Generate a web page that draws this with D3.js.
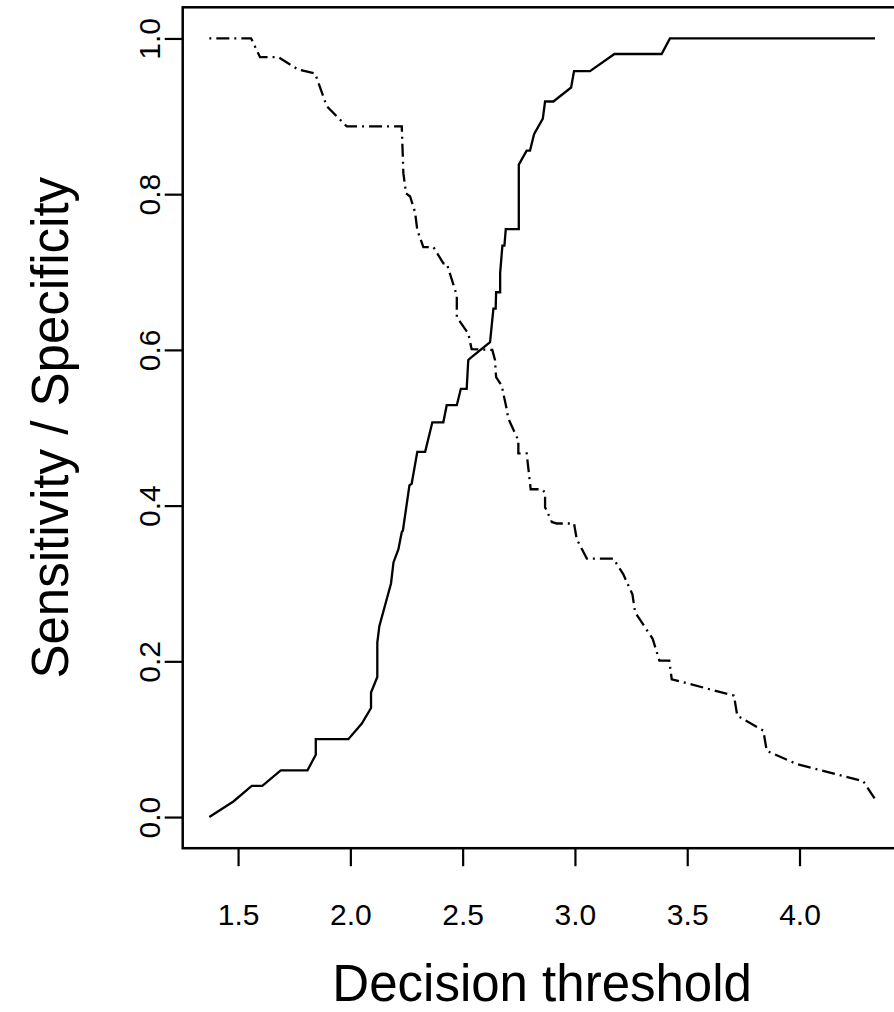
<!DOCTYPE html>
<html>
<head>
<meta charset="utf-8">
<script src="https://d3js.org/d3.v7.min.js"></script>
<style>
  body { margin: 0; background: #fff; }
  text { font-family: "Liberation Sans", Arial, sans-serif; fill: #000; }
</style>
</head>
<body>
<div id="my_dataviz"></div>
<script>
// sensitivity curve (solid)
var sensThreshold = [1.372, 1.479, 1.561, 1.608, 1.690, 1.809, 1.846, 1.846, 1.991, 2.051,
  2.092, 2.092, 2.120, 2.120, 2.129, 2.181, 2.192, 2.214, 2.229, 2.234, 2.263, 2.273,
  2.298, 2.333, 2.365, 2.414, 2.429, 2.474, 2.492, 2.518, 2.525, 2.533, 2.622, 2.637,
  2.647, 2.649, 2.667, 2.667, 2.677, 2.686, 2.692, 2.750, 2.750, 2.785, 2.800, 2.818,
  2.857, 2.867, 2.904, 2.983, 2.996, 3.067, 3.176, 3.386, 3.423, 4.336];
var sensValue = [0.000, 0.020, 0.040, 0.040, 0.060, 0.060, 0.080, 0.100, 0.100, 0.120,
  0.140, 0.160, 0.180, 0.224, 0.245, 0.300, 0.327, 0.344, 0.366, 0.368, 0.426, 0.428,
  0.469, 0.469, 0.507, 0.507, 0.529, 0.529, 0.550, 0.550, 0.587, 0.589, 0.610, 0.653,
  0.653, 0.674, 0.674, 0.699, 0.734, 0.734, 0.755, 0.755, 0.838, 0.856, 0.856, 0.877,
  0.897, 0.919, 0.919, 0.937, 0.958, 0.958, 0.980, 0.980, 1.000, 1.000];

// specificity curve (dot-dash)
var specThreshold = [1.372, 1.558, 1.598, 1.679, 1.768, 1.843, 1.895, 1.984, 2.229, 2.236,
  2.248, 2.266, 2.288, 2.298, 2.325, 2.370, 2.414, 2.429, 2.474, 2.474, 2.525, 2.540,
  2.632, 2.644, 2.649, 2.674, 2.696, 2.703, 2.741, 2.748, 2.748, 2.785, 2.803, 2.852,
  2.867, 2.867, 2.897, 2.919, 2.996, 3.008, 3.053, 3.171, 3.215, 3.256, 3.268, 3.346,
  3.376, 3.420, 3.431, 3.708, 3.723, 3.839, 3.854, 3.988, 4.284, 4.336];
var specValue = [1.000, 1.000, 0.976, 0.976, 0.960, 0.955, 0.913, 0.887, 0.887, 0.827,
  0.801, 0.797, 0.777, 0.754, 0.732, 0.732, 0.711, 0.711, 0.670, 0.642, 0.621, 0.601,
  0.600, 0.587, 0.565, 0.554, 0.524, 0.512, 0.488, 0.486, 0.467, 0.467, 0.421, 0.421,
  0.417, 0.398, 0.379, 0.377, 0.377, 0.357, 0.332, 0.332, 0.312, 0.286, 0.263, 0.229,
  0.201, 0.201, 0.177, 0.156, 0.130, 0.111, 0.085, 0.068, 0.046, 0.023];

var xTicks = [1.5, 2.0, 2.5, 3.0, 3.5, 4.0];
var yTicks = [0.0, 0.2, 0.4, 0.6, 0.8, 1.0];
var xTitle = "Decision threshold";
var yTitle = "Sensitivity / Specificity";

var width = 894, height = 1012;
var plot = {left: 182.7, right: 901.6, top: 7.3, bottom: 848.2};

var svg = d3.select("#my_dataviz").append("svg")
  .attr("width", width)
  .attr("height", height);

// R style limits: data range + 4%
var xmin = d3.min(sensThreshold.concat(specThreshold)),
    xmax = d3.max(sensThreshold.concat(specThreshold));
var xpad = (xmax - xmin) * 0.04;
var x = d3.scaleLinear()
  .domain([xmin - xpad, xmax + xpad])
  .range([plot.left, plot.right]);
var y = d3.scaleLinear()
  .domain([-0.04, 1.04])
  .range([plot.bottom, plot.top]);

// box
svg.append("rect")
  .attr("x", plot.left).attr("y", plot.top)
  .attr("width", plot.right - plot.left)
  .attr("height", plot.bottom - plot.top)
  .attr("fill", "none").attr("stroke", "#000").attr("stroke-width", 2.5);

// x axis
var gx = svg.append("g")
  .attr("transform", "translate(0," + plot.bottom + ")")
  .call(d3.axisBottom(x).tickValues(xTicks).tickSizeOuter(0).tickSize(18)
    .tickFormat(d3.format(".1f")));
gx.select(".domain").remove();
gx.selectAll(".tick line").attr("stroke", "#000").attr("stroke-width", 2.2);
gx.selectAll(".tick text")
  .attr("y", 77).attr("dy", null)
  .style("font-size", "30px")
  .style("font-family", "Liberation Sans, Arial, sans-serif");

// y axis
var gy = svg.append("g")
  .attr("transform", "translate(" + plot.left + ",0)")
  .call(d3.axisLeft(y).tickValues(yTicks).tickSizeOuter(0).tickSize(18)
    .tickFormat(d3.format(".1f")));
gy.select(".domain").remove();
gy.selectAll(".tick line").attr("stroke", "#000").attr("stroke-width", 2.2);
gy.selectAll(".tick text")
  .attr("x", null).attr("dy", null)
  .attr("text-anchor", "middle")
  .attr("transform", "translate(-23,0) rotate(-90)")
  .style("font-size", "30px")
  .style("font-family", "Liberation Sans, Arial, sans-serif");

// titles
svg.append("text")
  .attr("x", (plot.left + plot.right) / 2)
  .attr("y", 1001)
  .attr("text-anchor", "middle")
  .style("font-size", "51px")
  .text(xTitle);

svg.append("text")
  .attr("transform", "translate(68," + (plot.top + plot.bottom) / 2 + ") rotate(-90)")
  .attr("text-anchor", "middle")
  .style("font-size", "51px")
  .text(yTitle);

// curves
var line = d3.line()
  .x(function(d) { return x(d[0]); })
  .y(function(d) { return y(d[1]); });

var sens = d3.zip(sensThreshold, sensValue);
var spec = d3.zip(specThreshold, specValue);

svg.append("path")
  .datum(sens)
  .attr("d", line)
  .attr("fill", "none")
  .attr("stroke", "#000")
  .attr("stroke-width", 2.3);

svg.append("path")
  .datum(spec)
  .attr("d", line)
  .attr("fill", "none")
  .attr("stroke", "#000")
  .attr("stroke-width", 2.3)
  .attr("stroke-dasharray", "2,5,13,5");
</script>
</body>
</html>
